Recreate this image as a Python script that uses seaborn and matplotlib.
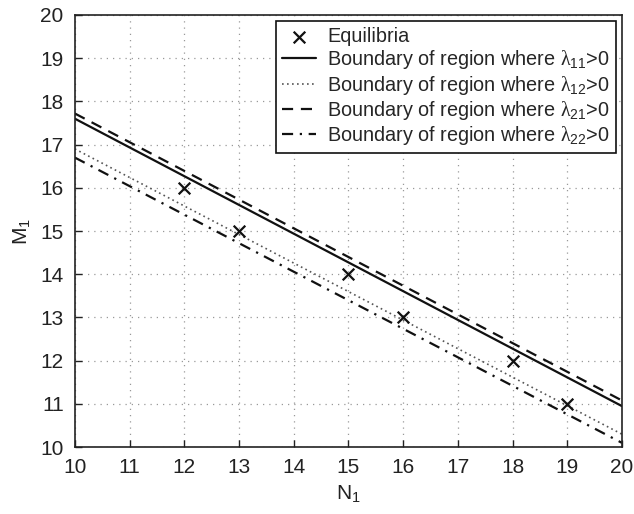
import matplotlib
matplotlib.use("Agg")
import matplotlib.pyplot as plt
import seaborn as sns
import numpy as np

# Equilibrium points (N1, M1)
eq_n1 = [12, 13, 15, 16, 18, 19]
eq_m1 = [16, 15, 14, 13, 12, 11]

# Boundary lines, given at N1 = 10 and N1 = 20
n1_ends = [10, 20]
bound_l11 = [17.60, 10.95]
bound_l12 = [16.90, 10.30]
bound_l21 = [17.72, 11.08]
bound_l22 = [16.70, 10.10]

x_ticks = list(range(10, 21))
y_ticks = list(range(10, 21))

sns.set_theme(style="white")
plt.rcParams["font.family"] = ["Liberation Sans", "DejaVu Sans"]
plt.rcParams["mathtext.fontset"] = "custom"
plt.rcParams["mathtext.rm"] = "Liberation Sans"
plt.rcParams["mathtext.it"] = "Liberation Serif"

fig = plt.figure(figsize=(6.34, 5.14), dpi=100)
ax = fig.add_axes([0.118, 0.130, 0.863, 0.841])

sns.scatterplot(x=eq_n1, y=eq_m1, marker="x", s=70, color="#111111",
                linewidth=1.6, label="Equilibria", ax=ax, zorder=5)
sns.lineplot(x=n1_ends, y=bound_l11, color="#111111", lw=1.6, linestyle="-",
             label=r"Boundary of region where $\lambda_{11}$>0", ax=ax)
sns.lineplot(x=n1_ends, y=bound_l12, color="#555555", lw=1.2, linestyle=(0, (1, 2)),
             label=r"Boundary of region where $\lambda_{12}$>0", ax=ax)
sns.lineplot(x=n1_ends, y=bound_l21, color="#111111", lw=1.6, linestyle=(0, (5, 3.5)),
             label=r"Boundary of region where $\lambda_{21}$>0", ax=ax)
sns.lineplot(x=n1_ends, y=bound_l22, color="#111111", lw=1.6, linestyle=(0, (5, 3, 1, 3)),
             label=r"Boundary of region where $\lambda_{22}$>0", ax=ax)

ax.set_xlim(10, 20)
ax.set_ylim(10, 20)
ax.set_xticks(x_ticks)
ax.set_yticks(y_ticks)
ax.grid(True, color="#999999", linestyle=(0, (1, 4)), linewidth=0.9)
ax.tick_params(direction="in", length=5, width=1, labelsize=15, colors="#222222",
               top=False, right=False, bottom=True, left=True, pad=8)
for s in ax.spines.values():
    s.set_color("#222222")
    s.set_linewidth(1.2)

ax.set_xlabel(r"N$_1$", fontsize=15, color="#222222", labelpad=4)
ax.set_ylabel(r"M$_1$", fontsize=15, color="#222222", labelpad=6)

leg = ax.legend(loc="upper right", fontsize=14.3, frameon=True, fancybox=False,
                edgecolor="#111111", framealpha=1, handlelength=1.7,
                handletextpad=0.6, borderpad=0.3, labelspacing=0.12,
                borderaxespad=0.3)
leg.get_frame().set_linewidth(1.2)

fig.savefig("out.png", dpi=100)
